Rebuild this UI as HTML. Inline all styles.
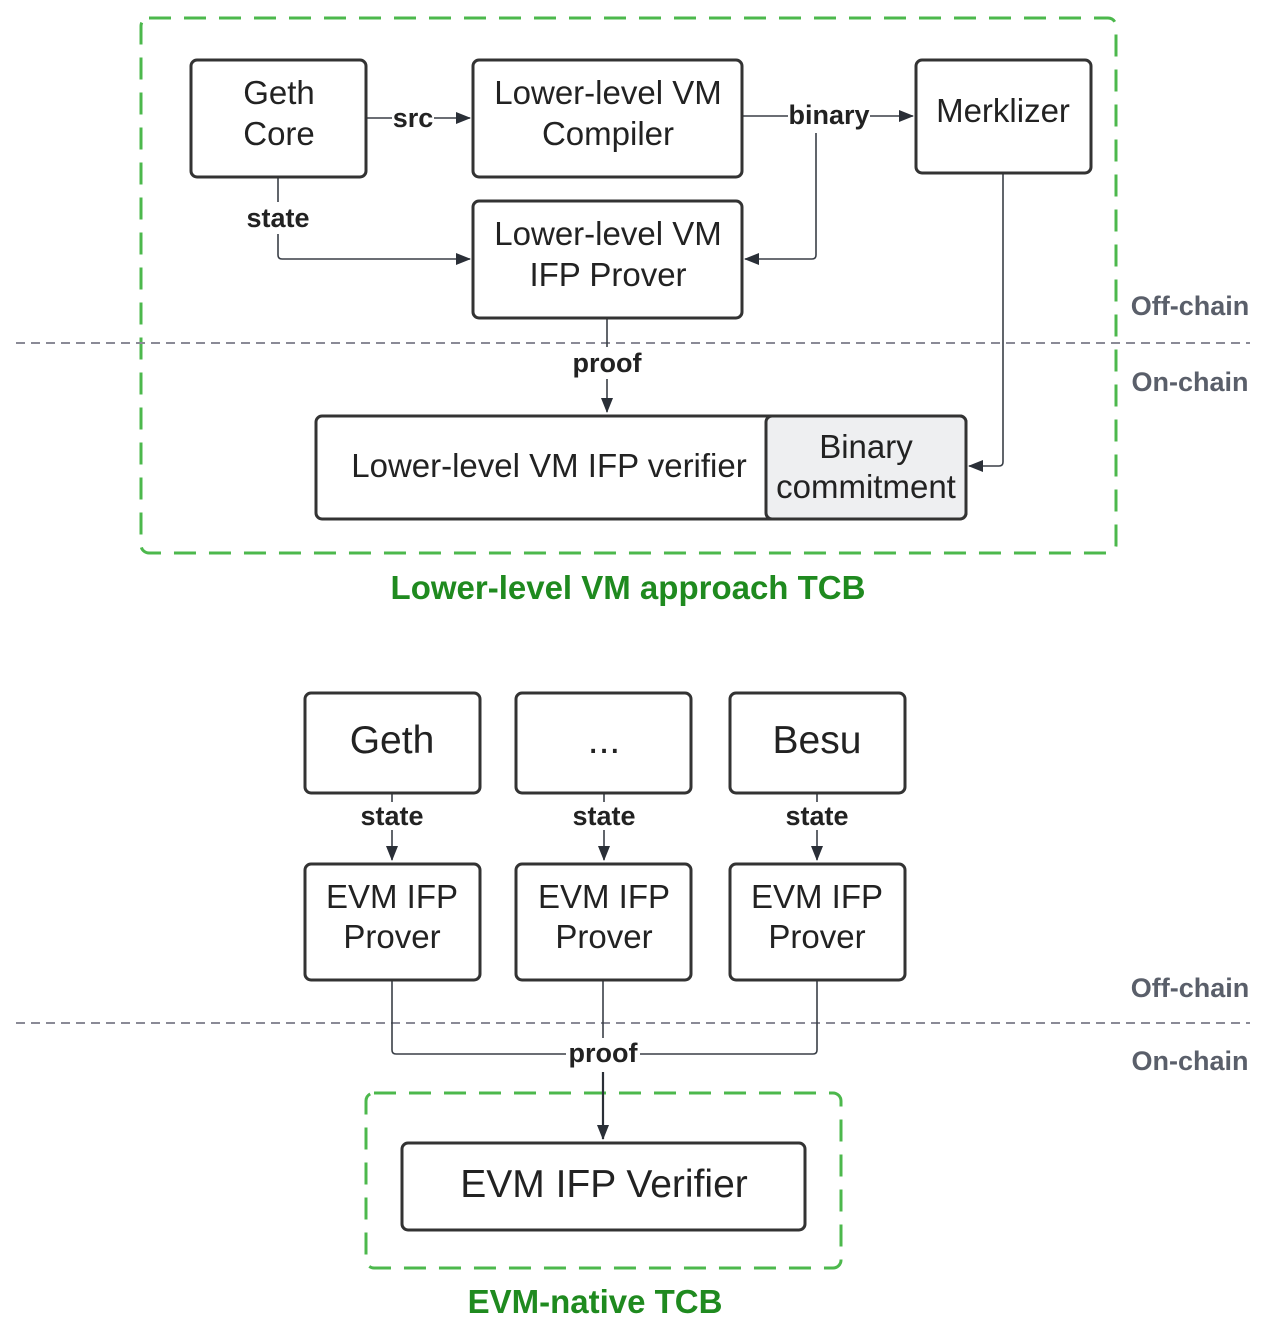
<!DOCTYPE html>
<html><head><meta charset="utf-8"><style>
html,body{margin:0;padding:0;background:#fff;}
svg{display:block;}
text{font-family:"Liberation Sans",Arial,sans-serif;}
.b{fill:#fff;stroke:#333;stroke-width:3;}
.t{fill:#222;text-anchor:middle;}
.l{font-weight:bold;font-size:27px;fill:#222;text-anchor:middle;}
.c{stroke:#3a3f47;stroke-width:1.6;fill:none;}
.g{font-weight:bold;font-size:27px;fill:#5a5f6a;text-anchor:middle;}
</style></head><body>
<svg width="1267" height="1335" viewBox="0 0 1267 1335" xmlns="http://www.w3.org/2000/svg">
<defs><marker id="a" markerWidth="15" markerHeight="12" refX="14" refY="6" orient="auto" markerUnits="userSpaceOnUse"><path d="M0,0 L15,6 L0,12 Z" fill="#2a2f37"/></marker></defs>
<rect x="141" y="18" width="975" height="535" rx="8" fill="none" stroke="#4cb84c" stroke-width="3" stroke-dasharray="22 13"/>
<line x1="16" y1="343" x2="1250" y2="343" stroke="#8a8a96" stroke-width="2" stroke-dasharray="9 6"/>
<line x1="16" y1="1023" x2="1250" y2="1023" stroke="#8a8a96" stroke-width="2" stroke-dasharray="9 6"/>
<text class="g" x="1190" y="315">Off-chain</text>
<text class="g" x="1190" y="391">On-chain</text>
<text class="g" x="1190" y="997">Off-chain</text>
<text class="g" x="1190" y="1070">On-chain</text>

<path class="c" d="M366,118 H392 M434,118 H470" marker-end="url(#a)"/>
<text class="l" x="413" y="127">src</text>
<path class="c" d="M742,116 H788 M870,116 H913" marker-end="url(#a)"/>
<text class="l" x="829" y="124">binary</text>
<path class="c" d="M816,133 V255 Q816,259 812,259 H745" marker-end="url(#a)"/>
<path class="c" d="M278,177 V202 M278,234 V255 Q278,259 282,259 H470" marker-end="url(#a)"/>
<text class="l" x="278" y="227">state</text>
<path class="c" d="M607,318 V347 M607,379 V412" marker-end="url(#a)"/>
<text class="l" x="607" y="372">proof</text>
<path class="c" d="M1003,173 V462 Q1003,466 999,466 H969" marker-end="url(#a)"/>

<rect class="b" x="191" y="60" width="175" height="117" rx="6"/>
<text class="t" font-size="33" x="279" y="104">Geth</text>
<text class="t" font-size="33" x="279" y="145">Core</text>
<rect class="b" x="473" y="60" width="269" height="117" rx="6"/>
<text class="t" font-size="33" x="608" y="104">Lower-level VM</text>
<text class="t" font-size="33" x="608" y="145">Compiler</text>
<rect class="b" x="916" y="60" width="175" height="113" rx="6"/>
<text class="t" font-size="33" x="1003" y="122">Merklizer</text>
<rect class="b" x="473" y="201" width="269" height="117" rx="6"/>
<text class="t" font-size="33" x="608" y="245">Lower-level VM</text>
<text class="t" font-size="33" x="608" y="286">IFP Prover</text>
<rect class="b" x="316" y="416" width="650" height="103" rx="6"/>
<rect x="766" y="416" width="200" height="103" rx="6" fill="#eeeff1" stroke="#333" stroke-width="3"/>
<text class="t" font-size="33" x="549" y="477">Lower-level VM IFP verifier</text>
<text class="t" font-size="33" x="866" y="458">Binary</text>
<text class="t" font-size="33" x="866" y="498">commitment</text>
<text x="628" y="599" font-size="33" font-weight="bold" fill="#1f8a1f" text-anchor="middle">Lower-level VM approach TCB</text>

<rect x="366" y="1093" width="475" height="175" rx="8" fill="none" stroke="#4cb84c" stroke-width="3" stroke-dasharray="22 13"/>
<path class="c" d="M392,793 V802 M392,830 V860" marker-end="url(#a)"/>
<path class="c" d="M604,793 V802 M604,830 V860" marker-end="url(#a)"/>
<path class="c" d="M817,793 V802 M817,830 V860" marker-end="url(#a)"/>
<text class="l" x="392" y="825">state</text>
<text class="l" x="604" y="825">state</text>
<text class="l" x="817" y="825">state</text>
<path class="c" d="M392,980 V1050 Q392,1054 396,1054 H566 M640,1054 H813 Q817,1054 817,1050 V980"/>
<path class="c" d="M603,980 V1038"/>
<path d="M603,1072 V1139" stroke="#2a2f37" stroke-width="2.2" fill="none" marker-end="url(#a)"/>
<text class="l" x="603" y="1062">proof</text>

<rect class="b" x="305" y="693" width="175" height="100" rx="6"/>
<text class="t" font-size="39" x="392" y="753">Geth</text>
<rect class="b" x="516" y="693" width="175" height="100" rx="6"/>
<text class="t" font-size="39" x="604" y="753">...</text>
<rect class="b" x="730" y="693" width="175" height="100" rx="6"/>
<text class="t" font-size="39" x="817" y="753">Besu</text>

<rect class="b" x="305" y="864" width="175" height="116" rx="6"/>
<text class="t" font-size="33" x="392" y="908">EVM IFP</text>
<text class="t" font-size="33" x="392" y="948">Prover</text>
<rect class="b" x="516" y="864" width="175" height="116" rx="6"/>
<text class="t" font-size="33" x="604" y="908">EVM IFP</text>
<text class="t" font-size="33" x="604" y="948">Prover</text>
<rect class="b" x="730" y="864" width="175" height="116" rx="6"/>
<text class="t" font-size="33" x="817" y="908">EVM IFP</text>
<text class="t" font-size="33" x="817" y="948">Prover</text>

<rect class="b" x="402" y="1143" width="403" height="87" rx="6"/>
<text class="t" font-size="39" x="604" y="1197">EVM IFP Verifier</text>
<text x="595" y="1313" font-size="33" font-weight="bold" fill="#1f8a1f" text-anchor="middle">EVM-native TCB</text>
</svg>
</body></html>
